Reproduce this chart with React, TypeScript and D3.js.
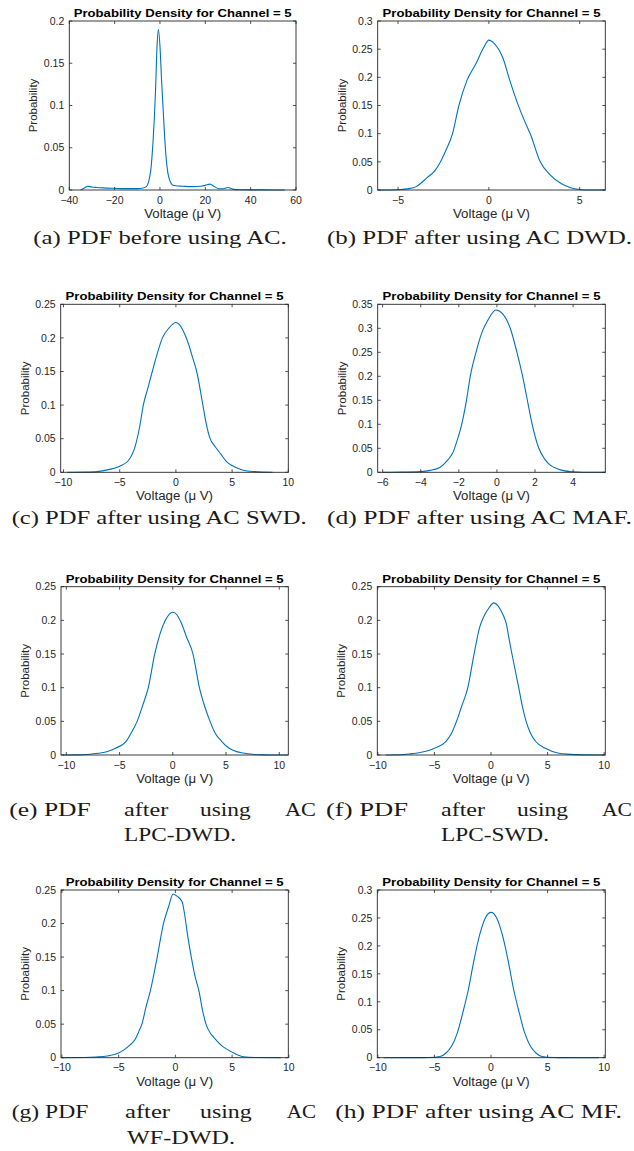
import React from "react";
import * as d3 from "d3";

// ---------- data ----------
const TITLE = "Probability Density for Channel = 5";
const X_LABEL = "Voltage (\u03BC V)";
const Y_LABEL = "Probability";

const voltA = [-35, -33, -32, -30, -28, -25, -20, -15, -10, -8, -6, -5, -4, -3, -2, -1.3, -0.7, 0, 0.7, 1.5, 2.5, 3.5, 4.5, 5.5, 7, 10, 14, 18, 20, 22, 24, 26, 28, 30, 32, 35, 45, 55];
const probA = [0, 0.003, 0.0045, 0.0035, 0.003, 0.0025, 0.002, 0.0016, 0.0016, 0.002, 0.004, 0.01, 0.025, 0.06, 0.115, 0.17, 0.19, 0.17, 0.13, 0.09, 0.045, 0.02, 0.01, 0.006, 0.005, 0.0045, 0.004, 0.0045, 0.0055, 0.007, 0.004, 0.0015, 0.0015, 0.003, 0.001, 0.0003, 0.0001, 0];

const voltB = [-6.12, -5, -4.5, -4, -3.4, -3, -2.7, -2.4, -2, -1.65, -1.2, -0.7, -0.3, 0, 0.3, 0.8, 1.1, 1.6, 2.0, 2.3, 2.8, 3.4, 4, 4.5, 5, 5.5, 6.41];
const probB = [0, 0.0005, 0.002, 0.006, 0.022, 0.033, 0.048, 0.068, 0.1, 0.15, 0.195, 0.225, 0.252, 0.266, 0.26, 0.232, 0.2, 0.152, 0.12, 0.098, 0.052, 0.026, 0.011, 0.004, 0.001, 0, 0];

const voltC = [-9.7, -8, -7, -6, -5, -4.2, -3.6, -3.2, -2.9, -2.5, -2.1, -1.6, -1.2, -0.6, 0, 0.4, 0.8, 1.1, 1.5, 1.85, 2.4, 2.7, 3.0, 3.5, 4, 4.5, 5, 5.5, 6, 7, 8.6];
const probC = [0, 0.0003, 0.001, 0.004, 0.009, 0.018, 0.04, 0.07, 0.1, 0.125, 0.15, 0.18, 0.2, 0.215, 0.223, 0.218, 0.205, 0.192, 0.17, 0.15, 0.1, 0.072, 0.052, 0.038, 0.027, 0.016, 0.01, 0.006, 0.003, 0.001, 0];

const voltD = [-6, -5, -4, -3.5, -3, -2.6, -2.3, -2.1, -1.85, -1.6, -1.4, -1.1, -0.8, -0.5, -0.05, 0.3, 0.7, 1.05, 1.35, 1.55, 1.85, 2.2, 2.5, 2.8, 3.2, 3.5, 4, 4.5, 5.69];
const probD = [0, 0.0003, 0.0015, 0.004, 0.01, 0.025, 0.042, 0.065, 0.1, 0.15, 0.2, 0.25, 0.29, 0.315, 0.338, 0.33, 0.3, 0.25, 0.2, 0.16, 0.1, 0.05, 0.028, 0.015, 0.007, 0.0035, 0.001, 0.0002, 0];

const voltE = [-10.3, -9, -8, -7, -6, -5.4, -4.4, -3.9, -3.35, -2.8, -2.3, -1.7, -1.2, -0.7, 0, 0.4, 0.8, 1.3, 1.9, 2.5, 3, 3.5, 4, 4.6, 5.3, 6, 6.6, 7.5, 8.5, 10.6];
const probE = [0, 0.0002, 0.0008, 0.0025, 0.006, 0.01, 0.02, 0.033, 0.05, 0.075, 0.1, 0.15, 0.18, 0.2, 0.212, 0.208, 0.196, 0.175, 0.15, 0.1, 0.072, 0.05, 0.032, 0.02, 0.01, 0.005, 0.003, 0.001, 0.0002, 0];

const voltF = [-9.3, -8, -7, -6.5, -5, -4, -3.5, -3.05, -2.6, -2.05, -1.5, -1.0, -0.6, -0.2, 0.25, 0.6, 0.9, 1.15, 1.35, 1.6, 1.85, 2.45, 2.8, 3.1, 3.5, 3.95, 4.8, 5.9, 7, 8, 10];
const probF = [0, 0.0003, 0.002, 0.003, 0.01, 0.02, 0.032, 0.05, 0.072, 0.1, 0.15, 0.19, 0.207, 0.218, 0.226, 0.222, 0.214, 0.205, 0.195, 0.172, 0.15, 0.1, 0.07, 0.05, 0.032, 0.02, 0.01, 0.003, 0.001, 0.0002, 0];

const voltG = [-10, -8, -7, -6, -5, -4.5, -4, -3.55, -3.2, -2.95, -2.6, -2.2, -1.6, -1.05, -0.6, -0.2, 0.2, 0.6, 0.8, 1.1, 1.4, 1.75, 2.07, 2.4, 2.7, 3.1, 3.4, 4, 4.6, 5.2, 6, 7, 9.3];
const probG = [0, 0.0003, 0.001, 0.0025, 0.007, 0.012, 0.019, 0.027, 0.04, 0.05, 0.075, 0.1, 0.15, 0.2, 0.225, 0.244, 0.24, 0.232, 0.215, 0.18, 0.15, 0.12, 0.1, 0.07, 0.05, 0.036, 0.03, 0.019, 0.012, 0.0065, 0.0015, 0.0003, 0];

const voltH = [-9.5, -6, -5, -4.5, -4, -3.5, -3, -2.5, -2, -1.5, -1, -0.5, 0, 0.5, 1, 1.5, 2, 2.5, 3, 3.5, 4, 4.5, 5, 6, 9.55];
const probH = [0, 0.0001, 0.0008, 0.002, 0.008, 0.02, 0.043, 0.08, 0.122, 0.175, 0.22, 0.25, 0.26, 0.25, 0.22, 0.175, 0.122, 0.08, 0.043, 0.02, 0.008, 0.002, 0.0008, 0.0001, 0];

const xDomA = [-40, 60];
const xDomB = [-6.12, 6.41];
const xDomC = [-10.25, 10];
const xDomD = [-6.26, 5.69];
const xDomE = [-10.5, 10.85];
const xDomF = [-10.05, 10.1];
const xDomG = [-10.08, 9.95];
const xDomH = [-10.05, 10.1];

const xTicksA = [-40, -20, 0, 20, 40, 60];
const xTicksB = [-5, 0, 5];
const xTicksTen = [-10, -5, 0, 5, 10];
const xTicksD = [-6, -4, -2, 0, 2, 4];

const yTicks020 = [0, 0.05, 0.1, 0.15, 0.2];
const yTicks025 = [0, 0.05, 0.1, 0.15, 0.2, 0.25];
const yTicks030 = [0, 0.05, 0.1, 0.15, 0.2, 0.25, 0.3];
const yTicks035 = [0, 0.05, 0.1, 0.15, 0.2, 0.25, 0.3, 0.35];

const captionA = ["(a) PDF before using AC."];
const captionB = ["(b) PDF after using AC DWD."];
const captionC = ["(c) PDF after using AC SWD."];
const captionD = ["(d) PDF after using AC MAF."];
const captionE = ["(e) PDF", "after", "using", "AC", "LPC-DWD."];
const captionF = ["(f) PDF", "after", "using", "AC", "LPC-SWD."];
const captionG = ["(g) PDF", "after", "using", "AC", "WF-DWD."];
const captionH = ["(h) PDF after using AC MF."];

// ---------- layout ----------
type Panel = {
  xs: number[]; ys: number[]; xDom: number[]; yMax: number;
  xTicks: number[]; yTicks: number[];
  box: [number, number, number, number]; // left, right, top, bottom
  caption: string[];
  capPos: number[][]; // [x0, x1, baseline]
};

const panels: Panel[] = [
  { xs: voltA, ys: probA, xDom: xDomA, yMax: 0.2, xTicks: xTicksA, yTicks: yTicks020, box: [69.3, 296, 21, 190], caption: captionA, capPos: [[33.3, 286.7, 243.5]] },
  { xs: voltB, ys: probB, xDom: xDomB, yMax: 0.3, xTicks: xTicksB, yTicks: yTicks030, box: [377.7, 605.3, 21, 190], caption: captionB, capPos: [[327, 632, 243.5]] },
  { xs: voltC, ys: probC, xDom: xDomC, yMax: 0.25, xTicks: xTicksTen, yTicks: yTicks025, box: [60.7, 288.3, 304.3, 472.3], caption: captionC, capPos: [[11.7, 306.7, 523.5]] },
  { xs: voltD, ys: probD, xDom: xDomD, yMax: 0.35, xTicks: xTicksD, yTicks: yTicks035, box: [377.7, 605.3, 304.3, 472.3], caption: captionD, capPos: [[327, 632, 523.5]] },
  { xs: voltE, ys: probE, xDom: xDomE, yMax: 0.25, xTicks: xTicksTen, yTicks: yTicks025, box: [61, 288.3, 586.7, 755], caption: captionE, capPos: [[9.3, 90.7, 816], [124, 168.3, 816], [200, 250.7, 816], [285, 316, 816], [124, 236, 841]] },
  { xs: voltF, ys: probF, xDom: xDomF, yMax: 0.25, xTicks: xTicksTen, yTicks: yTicks025, box: [377.3, 605.3, 586.7, 755], caption: captionF, capPos: [[326, 408, 816], [441, 485, 816], [517, 568, 816], [602, 632, 816], [441, 549, 841]] },
  { xs: voltG, ys: probG, xDom: xDomG, yMax: 0.25, xTicks: xTicksTen, yTicks: yTicks025, box: [61, 288.3, 890, 1057.7], caption: captionG, capPos: [[11.7, 88.3, 1118], [125, 170, 1118], [200, 251.7, 1118], [286.7, 316, 1118], [127, 235, 1144]] },
  { xs: voltH, ys: probH, xDom: xDomH, yMax: 0.3, xTicks: xTicksTen, yTicks: yTicks030, box: [377.3, 605.3, 890, 1057.7], caption: captionH, capPos: [[335.3, 622, 1118]] },
];

const AX = "#262626";
const LINE = "#0072BD";
const SANS = "'Liberation Sans', Arial, Helvetica, sans-serif";
const SERIF = "'Liberation Serif', 'Times New Roman', serif";
const fmt = d3.format("~g");

function PanelView({ p }: { p: Panel }) {
  const [l, r, t, b] = p.box;
  const x = d3.scaleLinear().domain(p.xDom).range([l, r]);
  const y = d3.scaleLinear().domain([0, p.yMax]).range([b, t]);
  const pts = p.xs.map((v, i) => [v, p.ys[i]] as [number, number]);
  const line = d3.line<[number, number]>().x((d) => x(d[0])).y((d) => y(d[1])).curve(d3.curveMonotoneX);
  const tl = 3;
  return (
    <g>
      <path d={line(pts) || ""} fill="none" stroke={LINE} strokeWidth={1.1} />
      <rect x={l} y={t} width={r - l} height={b - t} fill="none" stroke={AX} strokeWidth={0.9} />
      {p.xTicks.map((v) => (
        <g key={"xt" + v}>
          <line x1={x(v)} x2={x(v)} y1={b} y2={b - tl} stroke={AX} strokeWidth={0.8} />
          <line x1={x(v)} x2={x(v)} y1={t} y2={t + tl} stroke={AX} strokeWidth={0.8} />
          <text x={x(v)} y={b + 13.5} textAnchor="middle" fontFamily={SANS} fontSize={10.5} fill={AX}>{fmt(v)}</text>
        </g>
      ))}
      {p.yTicks.map((v) => (
        <g key={"yt" + v}>
          <line x1={l} x2={l + tl} y1={y(v)} y2={y(v)} stroke={AX} strokeWidth={0.8} />
          <line x1={r} x2={r - tl} y1={y(v)} y2={y(v)} stroke={AX} strokeWidth={0.8} />
          <text x={l - 5} y={y(v) + 3.7} textAnchor="end" fontFamily={SANS} fontSize={10.5} fill={AX}>{fmt(v)}</text>
        </g>
      ))}
      <text x={(l + r) / 2} y={t - 4} textAnchor="middle" fontFamily={SANS} fontWeight="bold" fontSize={11} fill="#000" textLength={218} lengthAdjust="spacingAndGlyphs">{TITLE}</text>
      <text x={(l + r) / 2} y={b + 28} textAnchor="middle" fontFamily={SANS} fontSize={12} fill={AX} textLength={77} lengthAdjust="spacingAndGlyphs">{X_LABEL}</text>
      <text transform={`translate(${l - 32},${(t + b) / 2}) rotate(-90)`} textAnchor="middle" fontFamily={SANS} fontSize={11.5} fill={AX}>{Y_LABEL}</text>
      {p.caption.map((w, i) => {
        const [x0, x1, by] = p.capPos[i];
        return (
          <text key={"c" + i} x={x0} y={by} fontFamily={SERIF} fontSize={18} fill="#1a1a1a" textLength={x1 - x0} lengthAdjust="spacingAndGlyphs">{w}</text>
        );
      })}
    </g>
  );
}

export default function App() {
  return (
    <svg width={634} height={1151} viewBox="0 0 634 1151" style={{ position: "absolute", left: 0, top: 0, background: "#fff" }}>
      <rect x={0} y={0} width={634} height={1151} fill="#fff" />
      {panels.map((p, i) => <PanelView key={i} p={p} />)}
    </svg>
  );
}
